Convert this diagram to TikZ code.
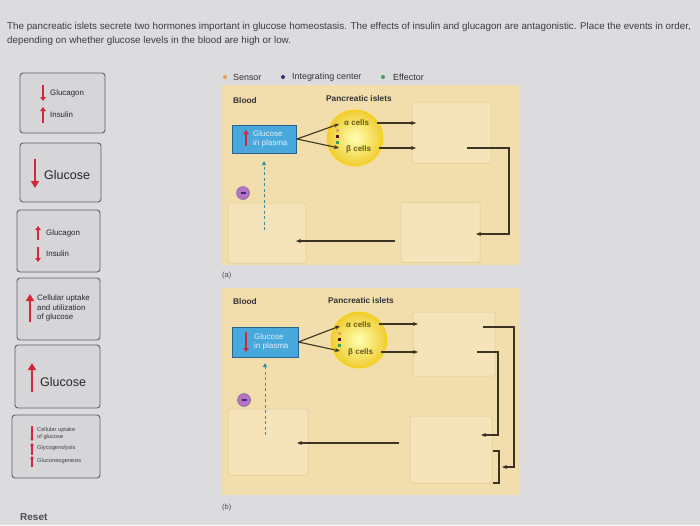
\documentclass[tikz,border=0pt]{standalone}
\usepackage{fontspec}
\setmainfont{Liberation Sans}
\usetikzlibrary{arrows.meta,shapes.geometric}
\definecolor{bg}{RGB}{220,220,223}
\definecolor{cardfill}{RGB}{214,214,217}
\definecolor{cardline}{RGB}{95,95,100}
\definecolor{panelc}{RGB}{242,222,172}
\definecolor{slotfill}{RGB}{245,228,186}
\definecolor{slotline}{RGB}{222,200,150}
\definecolor{arrowc}{RGB}{60,52,34}
\definecolor{redc}{RGB}{212,40,58}
\definecolor{bluebox}{RGB}{72,168,220}
\definecolor{blueline}{RGB}{40,100,140}
\definecolor{bluetext}{RGB}{225,240,250}
\definecolor{olive}{RGB}{105,90,20}
\definecolor{titlec}{RGB}{60,60,64}
\definecolor{sensorc}{RGB}{232,160,96}
\definecolor{integc}{RGB}{70,40,110}
\definecolor{effc}{RGB}{60,160,80}
\definecolor{dashc}{RGB}{60,140,160}
\definecolor{minusc}{RGB}{180,115,195}
\tikzset{
  card/.style={draw=cardline, fill=cardfill, rounded corners=3pt, line width=0.9pt},
  slot/.style={draw=slotline, fill=slotfill, rounded corners=2pt, line width=0.5pt},
  panel/.style={fill=panelc, draw=none},
  arr/.style={draw=arrowc, line width=1.1pt, -{Stealth[length=5pt,width=4pt]}},
  plainline/.style={draw=arrowc, line width=1.1pt},
  redarr/.style={draw=redc, line width=1.7pt, -{Triangle[length=4pt,width=5.5pt]}},
  bigredarr/.style={draw=redc, line width=2.8pt, -{Triangle[length=7pt,width=8pt]}},
  smallredarr/.style={draw=redc, line width=1.3pt, -{Triangle[length=2.5pt,width=3.5pt]}},
  dasharr/.style={draw=dashc, line width=1pt, dashed, dash pattern=on 3pt off 2.5pt, -{Triangle[length=4pt,width=4pt]}},
  minus/.style={circle, fill=minusc, draw=integc!70, line width=0.5pt, minimum size=13pt, inner sep=0pt},
  minusbar/.style={draw=integc, line width=1.1pt},
  cellc/.style={circle, draw=yellow!70!orange, line width=0.8pt, inner color=yellow!30, outer color={rgb,255:red,240;green,205;blue,50}, minimum size=56pt},
  gbox/.style={draw=blueline, fill=bluebox, line width=0.8pt},
  gtext/.style={anchor=west, align=left, text=bluetext, font=\fontsize{8}{9}\selectfont, inner sep=0pt},
  celltext/.style={anchor=west, text=olive, font=\fontsize{8}{8}\selectfont\bfseries, inner sep=0pt},
  headtext/.style={anchor=west, text=black!80, font=\fontsize{8.3}{8.5}\selectfont\bfseries, inner sep=0pt},
  legtext/.style={anchor=west, text=black!80, font=\fontsize{8.9}{9}\selectfont, inner sep=0pt},
  legdot/.style={circle, inner sep=0pt, minimum size=4pt},
  cardtext/.style={anchor=west, align=left, text=black!85, font=\fontsize{7.9}{9.8}\selectfont, inner sep=0pt},
  tinytext/.style={anchor=west, align=left, text=black!75, font=\fontsize{5.7}{6.8}\selectfont, inner sep=0pt},
  bigtext/.style={anchor=west, text=black!85, font=\fontsize{12.5}{13}\selectfont, inner sep=0pt},
  sqdot/.style={rectangle, inner sep=0pt, minimum size=3pt},
  titletext/.style={anchor=base west, text=titlec, font=\fontsize{9.8}{10}\selectfont, inner sep=0pt},
  sublabel/.style={anchor=west, text=black!70, font=\fontsize{7.5}{8}\selectfont, inner sep=0pt},
}
\begin{document}
\begin{tikzpicture}[x=1pt,y=-1pt]
\useasboundingbox (0,0) rectangle (700,525);
\fill[bg] (0,0) rectangle (700,525);

% title
\node[titletext] (title1) at (7,29) {The pancreatic islets secrete two hormones important in glucose homeostasis. The effects of insulin and glucagon are antagonistic. Place the events in order,};
\node[titletext] (title2) at (7,43) {depending on whether glucose levels in the blood are high or low.};

% cards
\node[card, minimum width=85pt, minimum height=60pt] (c1) at (62.5,103) {};
\draw[redarr] (43,85) -- (43,101);
\node[cardtext] (c1a) at (50,93) {Glucagon};
\draw[redarr] (43,123) -- (43,107);
\node[cardtext] (c1b) at (50,115) {Insulin};

\node[card, minimum width=81pt, minimum height=59pt] (c2) at (60.5,172.5) {};
\draw[bigredarr] (35,159) -- (35,188);
\node[bigtext] (c2a) at (44,175) {Glucose};

\node[card, minimum width=83pt, minimum height=62pt] (c3) at (58.5,241) {};
\draw[redarr] (38,240) -- (38,226);
\node[cardtext] (c3a) at (46,233) {Glucagon};
\draw[redarr] (38,247) -- (38,262);
\node[cardtext] (c3b) at (46,254) {Insulin};

\node[card, minimum width=83pt, minimum height=62pt] (c4) at (58.5,309) {};
\draw[bigredarr, line width=2pt] (30,322) -- (30,294);
\node[cardtext, font=\fontsize{7.9}{9.6}\selectfont] (c4a) at (37,308) {Cellular uptake\\and utilization\\of glucose};

\node[card, minimum width=85pt, minimum height=63pt] (c5) at (57.5,376.5) {};
\draw[bigredarr] (32,392) -- (32,363);
\node[bigtext] (c5a) at (40,382) {Glucose};

\node[card, minimum width=88pt, minimum height=63pt] (c6) at (56,446.5) {};
\draw[smallredarr] (32,426) -- (32,441);
\draw[smallredarr] (32,455) -- (32,443);
\draw[smallredarr] (32,467) -- (32,456);
\node[tinytext] (c6a) at (37,433.5) {Cellular uptake\\of glucose};
\node[tinytext] (c6b) at (37,448) {Glycogenolysis};
\node[tinytext] (c6c) at (37,461) {Gluconeogenesis};

\node[anchor=west, text=black!70, font=\fontsize{10}{10}\selectfont\bfseries, inner sep=0pt] (reset) at (20,517) {Reset};

% legend
\node[legdot, fill=sensorc] (ls) at (225,77) {};
\node[legtext] (lst) at (233,77) {Sensor};
\node[legdot, fill=integc] (li) at (283,77) {};
\node[legtext] (lit) at (292,77) {Integrating center};
\node[legdot, fill=effc] (le) at (383,77) {};
\node[legtext] (let) at (393,77) {Effector};

% ===== panel (a)
\fill[panel] (222,85) rectangle (520,265);
\node[headtext] (bloodA) at (233,101) {Blood};
\node[headtext] (pancA) at (326,99) {Pancreatic islets};
\node[slot, minimum width=79pt, minimum height=61pt] (sa1) at (451.5,132.5) {};
\node[slot, minimum width=79pt, minimum height=60pt] (sa2) at (440.5,232.5) {};
\node[slot, minimum width=78pt, minimum height=60pt] (sa3) at (267,233) {};
\node[gbox, minimum width=64pt, minimum height=28pt] (gA) at (264.5,139) {};
\draw[redarr] (246,146) -- (246,130);
\node[gtext] (gAt) at (253,139) {Glucose\\in plasma};
\node[cellc] (cellA) at (355,138) {};
\node[sqdot, fill=sensorc] (dA1) at (337,130) {};
\node[sqdot, fill=integc!60!red!60!black] (dA2) at (337,136) {};
\node[sqdot, fill=effc] (dA3) at (337,142) {};
\node[celltext] (alA) at (344,123) {α cells};
\node[celltext] (beA) at (346,149) {β cells};
\coordinate (tAa) at (339,124);
\coordinate (tAb) at (339,148);
\draw[arr] (gA.east) -- (tAa);
\draw[arr] (gA.east) -- (tAb);
\coordinate (alAe) at (416,123);
\coordinate (beAe) at (416,148);
\draw[arr] ([xshift=8pt]alA.east |- alAe) -- (alAe);
\draw[arr] ([xshift=8pt]beA.east |- beAe) -- (beAe);
\coordinate (rA1) at (467,148);
\coordinate (rA2) at (509,148);
\coordinate (rA3) at (509,234);
\coordinate (rA4) at (476,234);
\draw[arr] (rA1) -- (rA2) -- (rA3) -- (rA4);
\coordinate (lA1) at (395,241);
\coordinate (lA2) at (296,241);
\draw[arr] (lA1) -- (lA2);
\coordinate (dsA1) at (264,230);
\coordinate (dsA2) at (264,161);
\draw[dasharr] (dsA1) -- (dsA2);
\node[minus] (mA) at (243,193) {};
\draw[minusbar] ([xshift=-2.5pt]mA.center) -- ([xshift=2.5pt]mA.center);
\node[sublabel] (labA) at (222,276) {(a)};

% ===== panel (b)
\fill[panel] (222,288) rectangle (520,495);
\node[headtext] (bloodB) at (233,302) {Blood};
\node[headtext] (pancB) at (328,301) {Pancreatic islets};
\node[slot, minimum width=82pt, minimum height=64pt] (sb1) at (454,344) {};
\node[slot, minimum width=82pt, minimum height=67pt] (sb2) at (451,449.5) {};
\node[slot, minimum width=80pt, minimum height=66pt] (sb3) at (268,442) {};
\node[gbox, minimum width=66pt, minimum height=30pt] (gB) at (265,342) {};
\draw[redarr] (246,332) -- (246,352);
\node[gtext] (gBt) at (254,342) {Glucose\\in plasma};
\node[cellc] (cellB) at (359,340) {};
\node[sqdot, fill=sensorc] (dB1) at (339,333) {};
\node[sqdot, fill=integc!60!red!60!black] (dB2) at (339,339) {};
\node[sqdot, fill=effc] (dB3) at (339,345) {};
\node[celltext] (alB) at (346,325) {α cells};
\node[celltext] (beB) at (348,352) {β cells};
\coordinate (tBa) at (340,326);
\coordinate (tBb) at (340,351);
\draw[arr] (gB.east) -- (tBa);
\draw[arr] (gB.east) -- (tBb);
\coordinate (alBe) at (418,324);
\coordinate (beBe) at (418,352);
\draw[arr] ([xshift=8pt]alB.east |- alBe) -- (alBe);
\draw[arr] ([xshift=8pt]beB.east |- beBe) -- (beBe);
\coordinate (oB1) at (483,327);
\coordinate (oB2) at (514,327);
\coordinate (oB3) at (514,467);
\coordinate (oB4) at (502,467);
\draw[arr] (oB1) -- (oB2) -- (oB3) -- (oB4);
\coordinate (iB1) at (477,352);
\coordinate (iB2) at (498,352);
\coordinate (iB3) at (498,435);
\coordinate (iB4) at (481,435);
\draw[arr] (iB1) -- (iB2) -- (iB3) -- (iB4);
\coordinate (brB1) at (493,451);
\coordinate (brB2) at (499,451);
\coordinate (brB3) at (499,483);
\coordinate (brB4) at (493,483);
\draw[plainline] (brB1) -- (brB2) -- (brB3) -- (brB4);
\coordinate (lB1) at (399,443);
\coordinate (lB2) at (297,443);
\draw[arr] (lB1) -- (lB2);
\coordinate (dsB1) at (265,435);
\coordinate (dsB2) at (265,363);
\draw[dasharr] (dsB1) -- (dsB2);
\node[minus] (mB) at (244,400) {};
\draw[minusbar] ([xshift=-2.5pt]mB.center) -- ([xshift=2.5pt]mB.center);
\node[sublabel] (labB) at (222,508) {(b)};
\end{tikzpicture}
\end{document}
